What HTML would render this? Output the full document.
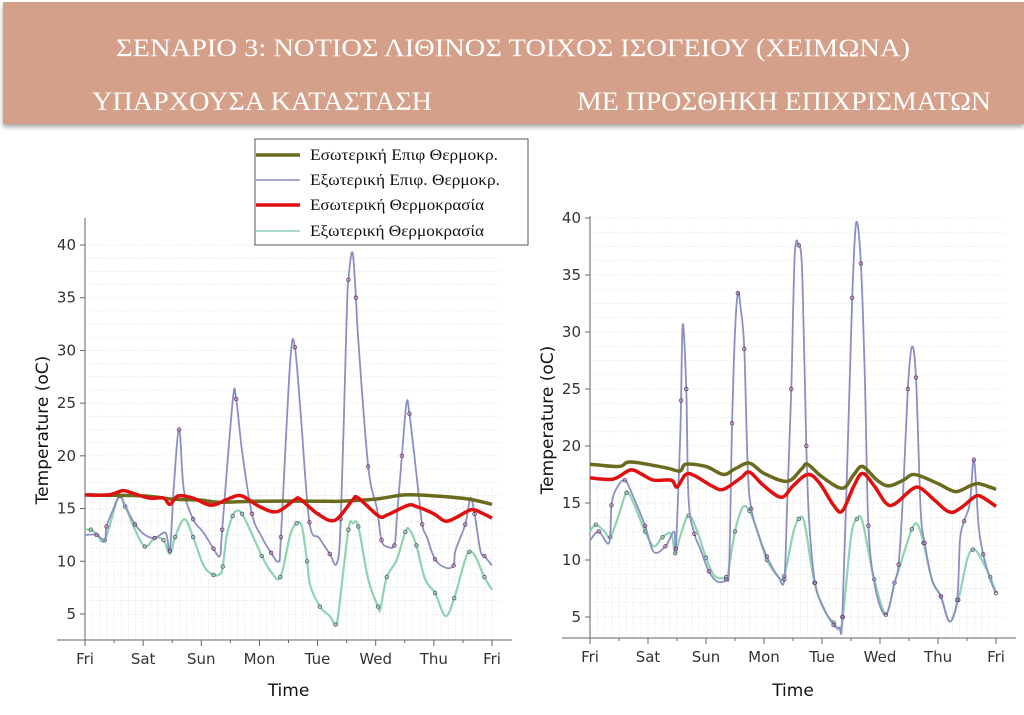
<!DOCTYPE html>
<html><head><meta charset="utf-8"><style>
html,body{margin:0;padding:0;background:#fff;width:1024px;height:715px;overflow:hidden}
svg{display:block}
.tk{font-family:"DejaVu Sans","Liberation Sans",sans-serif;font-size:15px;fill:#333}
.ttl{font-family:"DejaVu Sans","Liberation Sans",sans-serif;font-size:17px;fill:#111}
.hd{font-family:"Liberation Serif",serif;fill:#fff}
.lg{font-family:"Liberation Serif",serif;font-size:16px;fill:#111}
</style></head><body>
<svg id="root" width="1024" height="715" viewBox="0 0 1024 715" xmlns="http://www.w3.org/2000/svg">
<defs><filter id="sh" x="-5%" y="-10%" width="110%" height="130%"><feDropShadow dx="0" dy="3" stdDeviation="2.5" flood-color="#000" flood-opacity="0.35"/></filter></defs>
<g>
<rect x="3" y="2" width="1021" height="122" fill="#d4a08a" filter="url(#sh)"/>
<text class="hd" x="513" y="56" font-size="25" text-anchor="middle" textLength="794" lengthAdjust="spacingAndGlyphs">ΣΕΝΑΡΙΟ 3: ΝΟΤΙΟΣ ΛΙΘΙΝΟΣ ΤΟΙΧΟΣ ΙΣΟΓΕΙΟΥ (ΧΕΙΜΩΝΑ)</text>
<text class="hd" x="262" y="110" font-size="26" text-anchor="middle" textLength="340" lengthAdjust="spacingAndGlyphs">ΥΠΑΡΧΟΥΣΑ ΚΑΤΑΣΤΑΣΗ</text>
<text class="hd" x="784" y="110" font-size="26" text-anchor="middle" textLength="414" lengthAdjust="spacingAndGlyphs">ΜΕ ΠΡΟΣΘΗΚΗ ΕΠΙΧΡΙΣΜΑΤΩΝ</text>
</g>
<g id="charts"></g>
<g>
<rect x="255" y="139" width="273" height="106" fill="#fff" stroke="#555" stroke-width="1"/>
<g><line x1="256" y1="155" x2="300" y2="155" stroke="#6b6b1e" stroke-width="3.5"/><text class="lg" x="310" y="160" textLength="188" lengthAdjust="spacingAndGlyphs">Εσωτερική Επιφ Θερμοκρ.</text></g>
<g><line x1="256" y1="180" x2="300" y2="180" stroke="#8c8fc4" stroke-width="1.5"/><text class="lg" x="310" y="185" textLength="190" lengthAdjust="spacingAndGlyphs">Εξωτερική Επιφ. Θερμοκρ.</text></g>
<g><line x1="256" y1="205" x2="300" y2="205" stroke="#e01010" stroke-width="3.5"/><text class="lg" x="310" y="210" textLength="174" lengthAdjust="spacingAndGlyphs">Εσωτερική Θερμοκρασία</text></g>
<g><line x1="256" y1="231" x2="300" y2="231" stroke="#8ed4b0" stroke-width="1.5"/><text class="lg" x="310" y="236" textLength="174" lengthAdjust="spacingAndGlyphs">Εξωτερική Θερμοκρασία</text></g>
</g>
</svg>
<script>
const dayLabels=["Fri","Sat","Sun","Mon","Tue","Wed","Thu","Fri"];
const yTicks=[5,10,15,20,25,30,35,40];
// LEFT chart (existing)
const L_innerSurfT=[0,1,1.5,2,2.3,3,4,4.4,5,5.5,6,6.6,7];
const L_innerSurfV=[16.3,16.2,15.9,15.8,15.6,15.7,15.7,15.7,15.9,16.3,16.2,15.9,15.4];
const L_innerAirT=[0,0.4,0.65,0.8,1.1,1.35,1.46,1.6,1.85,2.1,2.25,2.5,2.7,3.0,3.3,3.6,3.7,4.0,4.3,4.6,4.7,5.05,5.2,5.55,5.7,6.0,6.2,6.4,6.65,6.85,7];
const L_innerAirV=[16.3,16.3,16.7,16.5,16,16,15.4,16.2,16,15.4,15.4,16,16.2,15.2,14.7,15.8,15.9,14.5,13.9,15.8,16,14.3,14.4,15.3,15.2,14.5,13.8,14.2,14.9,14.5,14.1];
const L_outerSurfT=[0,0.2,0.34,0.37,0.49,0.6,0.69,0.86,1.03,1.2,1.39,1.46,1.53,1.62,1.7,1.86,2.04,2.21,2.32,2.36,2.54,2.6,2.7,2.87,3.04,3.2,3.33,3.37,3.53,3.61,3.71,3.86,4.03,4.21,4.33,4.4,4.5,4.53,4.6,4.66,4.7,4.87,5.02,5.1,5.19,5.32,5.36,5.45,5.53,5.58,5.7,5.8,5.88,6.02,6.2,6.34,6.37,6.54,6.63,6.7,6.8,6.87,7];
const L_outerSurfV=[12.5,12.5,12,13.3,15,16.2,15.3,13.5,12.5,12.2,12.7,11,17.3,22.5,16.8,14,12.7,11.2,10.5,13,25.2,25.4,20.5,14.5,12.3,10.8,10,12.3,29,30.3,24,13.7,12.2,10.7,9.8,14,33,36.7,39.3,35,31,19,15,12,11.4,11.5,13.8,20,25,24,18.3,13.5,12.3,10.2,9.4,9.6,11,13.5,16,14.5,11,10.5,9.6];
const L_outerAirT=[0,0.1,0.2,0.34,0.57,0.69,0.86,1.03,1.2,1.35,1.46,1.55,1.71,1.86,2.04,2.21,2.32,2.37,2.44,2.54,2.61,2.7,2.87,3.04,3.2,3.36,3.53,3.64,3.73,3.82,3.87,4.04,4.21,4.31,4.36,4.53,4.61,4.7,4.87,5.04,5.08,5.19,5.36,5.51,5.58,5.7,5.85,6.02,6.2,6.35,6.53,6.61,6.71,6.87,7];
const L_outerAirV=[13,13,12.6,12,16,15.2,13,11.4,12.2,12,10.7,12.3,14,12.3,9.6,8.7,8.8,9.5,12.5,14.3,14.8,14.5,12.6,10.5,9,8.5,12.5,13.6,13.3,10,7.8,5.7,4.8,4,5.1,13,13.6,13.3,8.3,5.7,5.5,8.5,10.1,12.8,13,11.5,8.3,7,4.8,6.5,10,10.9,10.5,8.5,7.3];
// RIGHT chart (with coating)
const R_innerSurfT=[0,0.5,0.7,1.3,1.55,1.65,2.0,2.3,2.5,2.75,3.0,3.4,3.65,3.75,4.0,4.35,4.55,4.7,4.95,5.15,5.4,5.6,6.0,6.3,6.55,6.7,7];
const R_innerSurfV=[18.4,18.2,18.6,18.1,17.8,18.4,18.2,17.5,18,18.5,17.6,16.9,18,18.4,17.3,16.3,17.5,18.2,17,16.5,17,17.5,16.7,16,16.5,16.7,16.2];
const R_innerAirT=[0,0.4,0.7,0.9,1.1,1.4,1.5,1.65,1.8,2.1,2.3,2.6,2.75,3.0,3.3,3.5,3.75,3.95,4.2,4.35,4.55,4.7,4.9,5.1,5.25,5.55,5.7,5.95,6.2,6.4,6.65,6.8,7];
const R_innerAirV=[17.2,17.1,17.9,17.5,17,17,16.4,17.5,17.4,16.5,16.2,17.2,17.7,16.5,15.5,16.5,17.5,16.8,14.8,14.3,16.5,17.6,16.5,15,14.9,16.2,16.3,15.2,14.2,14.6,15.6,15.4,14.7];
const R_outerSurfT=[0,0.15,0.33,0.37,0.45,0.6,0.75,0.95,1.1,1.3,1.45,1.48,1.55,1.57,1.6,1.66,1.7,1.8,1.9,2.05,2.2,2.35,2.4,2.45,2.5,2.55,2.6,2.66,2.72,2.78,2.9,3.05,3.25,3.35,3.4,3.47,3.53,3.6,3.66,3.73,3.78,3.88,4.03,4.2,4.3,4.35,4.45,4.52,4.59,4.67,4.74,4.8,4.92,5.1,5.25,5.32,5.4,5.48,5.55,5.62,5.7,5.77,5.9,6.05,6.2,6.33,6.38,6.45,6.55,6.62,6.7,6.78,6.9,7];
const R_outerSurfV=[11.7,12.5,11.5,14.8,16.2,17,15.5,13,10.7,11.2,12.5,11,20,24,30.7,25,15.3,12.3,11,9,8.1,8.3,9.5,22,30,33.4,32,28.5,18,14.5,12.3,10.3,8.5,8.3,14.9,25,36.7,37.6,35,20,13.3,8,5.8,4.3,4.1,5,21,33,39.6,36,25.8,13,7.5,5.2,8,9.6,16,25,28.7,26,14.5,11.5,8.2,6.8,4.6,6.5,11.8,13.4,15,18.8,13,10.5,8.3,7.1];
const R_outerAirT=[0,0.1,0.25,0.35,0.5,0.63,0.75,0.95,1.1,1.25,1.4,1.47,1.55,1.7,1.85,2.0,2.15,2.35,2.4,2.5,2.63,2.75,2.9,3.05,3.25,3.35,3.5,3.6,3.7,3.87,4.05,4.2,4.3,4.36,4.5,4.6,4.7,4.9,5.1,5.25,5.35,5.55,5.65,5.75,5.9,6.05,6.2,6.35,6.5,6.6,6.7,6.9,7];
const R_outerAirV=[12.5,13.1,12.5,12,14,15.9,15,12.5,11.2,12,12.3,10.6,12,13.9,12.5,10.2,8.6,8.5,9.5,12.5,14.6,14.3,12.3,10,8.5,8.6,12.3,13.6,13.2,8,5.5,4.5,3.9,5,12,13.6,13.3,8.3,5.3,8,9.6,12.7,13.1,11.5,8.2,6.8,4.6,6.5,10,10.9,10.5,8.5,7.1];

const NS="http://www.w3.org/2000/svg";
function mk(tag,attrs,parent){const e=document.createElementNS(NS,tag);for(const k in attrs)e.setAttribute(k,attrs[k]);parent.appendChild(e);return e;}
function smooth(pts){let d="M"+pts[0][0].toFixed(1)+","+pts[0][1].toFixed(1);
 for(let i=0;i<pts.length-1;i++){const p0=pts[Math.max(0,i-1)],p1=pts[i],p2=pts[i+1],p3=pts[Math.min(pts.length-1,i+2)];
  const c1=[p1[0]+(p2[0]-p0[0])/6,p1[1]+(p2[1]-p0[1])/6],c2=[p2[0]-(p3[0]-p1[0])/6,p2[1]-(p3[1]-p1[1])/6];
  d+=" C"+c1[0].toFixed(1)+","+c1[1].toFixed(1)+" "+c2[0].toFixed(1)+","+c2[1].toFixed(1)+" "+p2[0].toFixed(1)+","+p2[1].toFixed(1);}
 return d;}
function chart(cfg){
 const root=document.getElementById('charts');
 const g=mk('g',{},root);
 
 
 const xs=d=>cfg.x0+(cfg.x1-cfg.x0)*d/7;
 const ys=v=>cfg.y40+(cfg.y5-cfg.y40)*(40-v)/35;
 const grid=mk('g',{stroke:'#e3e3e3','stroke-width':'0.8','stroke-dasharray':'1.5,2'},g);
 
 
 for(let v=5;v<=41;v+=1.25){mk('line',{x1:cfg.x0,x2:cfg.x1+10,y1:ys(v),y2:ys(v)},grid);}
 for(let d=0;d<=7;d+=0.125){mk('line',{x1:xs(d),x2:xs(d),y1:cfg.axisY,y2:ys(17)},grid);}
 const ax=mk('g',{stroke:'#666','stroke-width':'1'},g);
 
 
 mk('line',{x1:cfg.x0,x2:cfg.x0,y1:cfg.axisTop,y2:cfg.axisY},ax);
 mk('line',{x1:cfg.x0-28,x2:cfg.x1+20,y1:cfg.axisY,y2:cfg.axisY},ax);
 yTicks.forEach(v=>{mk('line',{x1:cfg.x0-5,x2:cfg.x0,y1:ys(v),y2:ys(v)},ax);
  const t=mk('text',{x:cfg.x0-9,y:ys(v)+5,'text-anchor':'end',class:'tk'},g);t.textContent=v;
  
  });
 dayLabels.forEach((lab,i)=>{mk('line',{x1:xs(i),x2:xs(i),y1:cfg.axisY,y2:cfg.axisY+6},ax);
  if(i<7)mk('line',{x1:xs(i+0.5),x2:xs(i+0.5),y1:cfg.axisY,y2:cfg.axisY+3},ax);
  const t=mk('text',{x:xs(i),y:cfg.axisY+24,'text-anchor':'middle',class:'tk'},g);t.textContent=lab;
  
  });
 const xt=mk('text',{x:(cfg.x0+cfg.x1)/2,y:696,'text-anchor':'middle',class:'ttl'},g);xt.textContent='Time';
 
 
 const yt=mk('text',{x:0,y:0,'text-anchor':'middle',class:'ttl',transform:'translate('+(cfg.x0-37)+','+cfg.ylabY+') rotate(-90)'},g);yt.textContent='Temperature (oC)';
 
 
 cfg.series.forEach(s=>{
  const pts=s.t.map((d,i)=>[xs(d),ys(s.v[i])]);
  const p=mk('path',{d:smooth(pts),fill:'none',stroke:s.color,'stroke-width':s.w,'stroke-linejoin':'round'},g);
  
  
  if(s.dots){pts.forEach((q,i)=>{if(i%2===1){const c=mk('circle',{cx:q[0],cy:q[1],r:1.8,fill:'none',stroke:s.dots,'stroke-width':0.8},g);
   
   }});}
 });
}
chart({name:'left-chart-existing',x0:85,x1:492,y40:245,y5:614,axisY:640,axisTop:218,ylabY:430,series:[
 {name:'left-outer-air-line',t:L_outerAirT,v:L_outerAirV,color:'#8ed4b0',w:2.2,dots:'#557'},
 {name:'left-outer-surface-line',t:L_outerSurfT,v:L_outerSurfV,color:'#8c8fc4',w:1.8,dots:'#736'},
 {name:'left-inner-surface-line',t:L_innerSurfT,v:L_innerSurfV,color:'#6b6b1e',w:3.5},
 {name:'left-inner-air-line',t:L_innerAirT,v:L_innerAirV,color:'#e01010',w:3.5}]});
chart({name:'right-chart-coating',x0:590,x1:996,y40:218,y5:617,axisY:638,axisTop:216,ylabY:420,series:[
 {name:'right-outer-air-line',t:R_outerAirT,v:R_outerAirV,color:'#8ed4b0',w:2.2,dots:'#557'},
 {name:'right-outer-surface-line',t:R_outerSurfT,v:R_outerSurfV,color:'#8c8fc4',w:1.8,dots:'#736'},
 {name:'right-inner-surface-line',t:R_innerSurfT,v:R_innerSurfV,color:'#6b6b1e',w:3.5},
 {name:'right-inner-air-line',t:R_innerAirT,v:R_innerAirV,color:'#e01010',w:3.5}]});
</script>
</body></html>
